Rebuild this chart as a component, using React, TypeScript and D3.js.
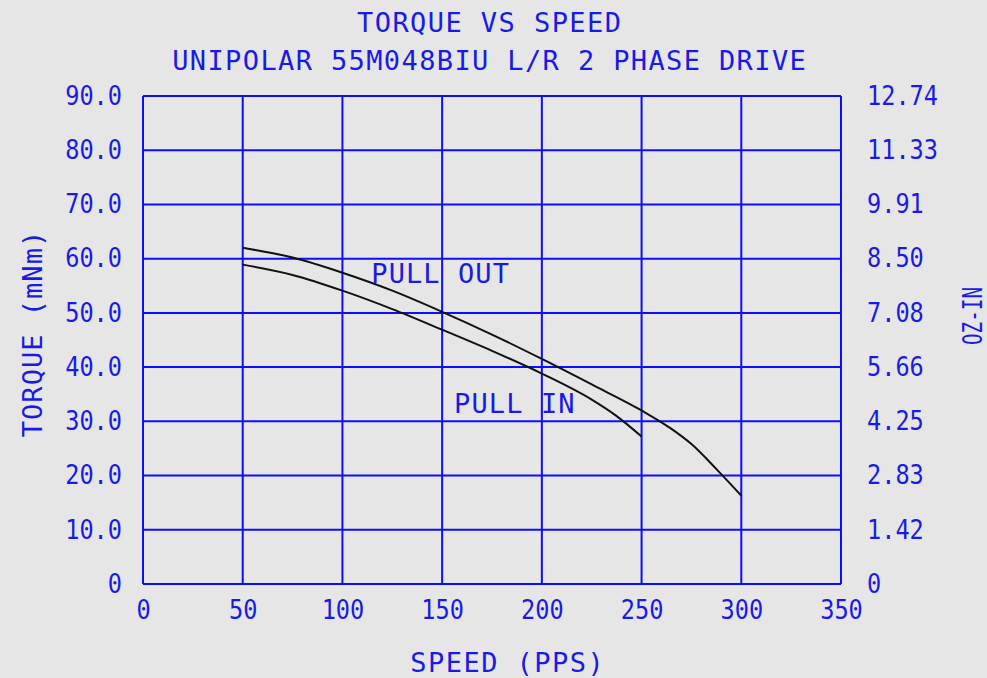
// TorqueChart.tsx
import React, { useRef, useEffect } from 'react';
import * as d3 from 'd3';

// speed / torque
const pullOutSpeed = [50, 75, 100, 125, 150, 175, 200, 225, 250, 265, 275, 288, 300];
const pullOutTorque = [62.0, 60.2, 57.4, 54.1, 50.2, 46.0, 41.5, 36.8, 32.0, 28.6, 25.8, 21.0, 16.3];
const pullInSpeed = [50, 75, 100, 125, 150, 175, 200, 225, 237, 250];
const pullInTorque = [58.9, 57.0, 54.1, 50.7, 46.9, 43.0, 38.8, 34.0, 31.1, 27.2];

const speedTicks = [0, 50, 100, 150, 200, 250, 300, 350];
const torqueTicks = [0, 10, 20, 30, 40, 50, 60, 70, 80, 90];
const torqueLabels = ['0', '10.0', '20.0', '30.0', '40.0', '50.0', '60.0', '70.0', '80.0', '90.0'];
const ozInLabels = ['0', '1.42', '2.83', '4.25', '5.66', '7.08', '8.50', '9.91', '11.33', '12.74'];

const curveNames = ['PULL OUT', 'PULL IN'];
const curveLabelSpeed = [114.5, 156];
const curveLabelTorque = [55.5, 31.5];

const W = 987;
const H = 678;
const BLUE = '#0c0cff';
const TEXT = '#1a1ae6';
const FONT = '"DejaVu Sans Mono", monospace';

const App = () => {
  const svgRef = useRef<SVGSVGElement>(null);

  useEffect(() => {
    const svg = d3.select(svgRef.current);
    svg.selectAll('*').remove();

    const margin = { top: 96, right: 146, bottom: 94, left: 143 };
    const width = W - margin.left - margin.right;
    const height = H - margin.top - margin.bottom;

    const x = d3.scaleLinear().domain([0, 350]).range([0, width]);
    const y = d3.scaleLinear().domain([0, 90]).range([height, 0]);

    svg.append('rect').attr('width', W).attr('height', H).attr('fill', '#e6e6e6');

    // titles
    const titles = ['TORQUE VS SPEED', 'UNIPOLAR 55M048BIU L/R 2 PHASE DRIVE'];
    titles.forEach((t, i) => {
      svg.append('text')
        .attr('x', 489).attr('y', 32 + i * 38)
        .attr('text-anchor', 'middle')
        .attr('font-family', FONT).attr('font-size', 27)
        .attr('fill', TEXT)
        .attr('textLength', t.length * 17.6).attr('lengthAdjust', 'spacing')
        .text(t);
    });

    const g = svg.append('g').attr('transform', `translate(${margin.left},${margin.top})`);

    // grid
    g.selectAll('.vgrid').data(speedTicks).enter().append('line')
      .attr('x1', d => x(d)).attr('x2', d => x(d))
      .attr('y1', 0).attr('y2', height)
      .attr('stroke', BLUE).attr('stroke-width', 2);
    g.selectAll('.hgrid').data(torqueTicks).enter().append('line')
      .attr('x1', 0).attr('x2', width)
      .attr('y1', d => y(d)).attr('y2', d => y(d))
      .attr('stroke', BLUE).attr('stroke-width', 2);

    const styleTicks = (sel: any) => {
      sel.select('.domain').remove();
      sel.selectAll('.tick line').remove();
      sel.selectAll('.tick text')
        .attr('font-family', FONT).attr('font-size', 26)
        .attr('fill', TEXT)
        .attr('textLength', function (this: SVGTextElement) { return (this.textContent || '').length * 14.2; })
        .attr('lengthAdjust', 'spacingAndGlyphs');
    };

    // left axis
    g.append('g')
      .call(d3.axisLeft(y).tickValues(torqueTicks).tickSize(0).tickPadding(21)
        .tickFormat((d, i) => torqueLabels[i]))
      .call(styleTicks);

    // right axis (oz-in)
    g.append('g')
      .attr('transform', `translate(${width},0)`)
      .call(d3.axisRight(y).tickValues(torqueTicks).tickSize(0).tickPadding(26)
        .tickFormat((d, i) => ozInLabels[i]))
      .call(styleTicks);

    // bottom axis
    g.append('g')
      .attr('transform', `translate(0,${height})`)
      .call(d3.axisBottom(x).tickValues(speedTicks).tickSize(0).tickPadding(17)
        .tickFormat(d3.format('d')))
      .call(styleTicks);

    // axis titles
    svg.append('text')
      .attr('x', 507).attr('y', 672)
      .attr('text-anchor', 'middle')
      .attr('font-family', FONT).attr('font-size', 27).attr('fill', TEXT)
      .attr('textLength', 11 * 17.6).attr('lengthAdjust', 'spacing')
      .text('SPEED (PPS)');

    svg.append('text')
      .attr('transform', 'translate(42,334) rotate(-90)')
      .attr('text-anchor', 'middle')
      .attr('font-family', FONT).attr('font-size', 27).attr('fill', TEXT)
      .attr('textLength', 12 * 17.2).attr('lengthAdjust', 'spacing')
      .text('TORQUE (mNm)');

    svg.append('text')
      .attr('transform', 'translate(982,316) rotate(-90)')
      .attr('text-anchor', 'middle')
      .attr('font-family', FONT).attr('font-size', 27).attr('fill', TEXT)
      .attr('textLength', 58).attr('lengthAdjust', 'spacingAndGlyphs')
      .text('OZ-IN');

    // curves
    const line = d3.line<[number, number]>()
      .x(d => x(d[0]))
      .y(d => y(d[1]))
      .curve(d3.curveMonotoneX);

    const series = [
      pullOutSpeed.map((s, i) => [s, pullOutTorque[i]] as [number, number]),
      pullInSpeed.map((s, i) => [s, pullInTorque[i]] as [number, number]),
    ];
    series.forEach(pts => {
      g.append('path')
        .attr('d', line(pts))
        .attr('fill', 'none')
        .attr('stroke', '#111')
        .attr('stroke-width', 2);
    });

    curveNames.forEach((name, i) => {
      g.append('text')
        .attr('x', x(curveLabelSpeed[i])).attr('y', y(curveLabelTorque[i]))
        .attr('font-family', FONT).attr('font-size', 27).attr('fill', TEXT)
        .attr('textLength', name.length * 17.2).attr('lengthAdjust', 'spacing')
        .text(name);
    });
  }, []);

  return (
    <svg ref={svgRef} width={W} height={H} style={{ position: 'absolute', left: 0, top: 0 }} />
  );
};

export default App;
